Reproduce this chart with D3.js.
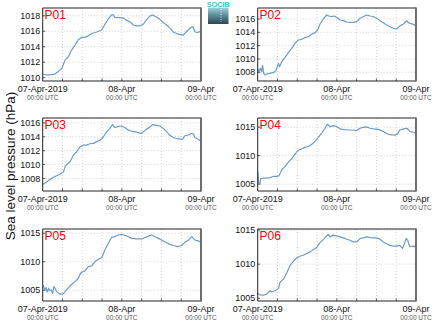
<!DOCTYPE html>
<html><head><meta charset="utf-8">
<script src="https://cdn.jsdelivr.net/npm/d3@7"></script>
<style>
html,body{margin:0;padding:0;background:#fff;}
svg{display:block;font-family:"Liberation Sans",Arial,sans-serif;}
</style></head>
<body>
<svg id="chart" width="435" height="327"></svg>
<script>
// ---------- DATA ----------
const panelNames = ["P01","P02","P03","P04","P05","P06"];
const startDate = "2019-04-07T00:00:00Z";
const xTickLabels = ["07-Apr-2019","08-Apr","09-Apr"];
const xTickSubLabel = "00:00 UTC";
const yAxisTitle = "Sea level pressure (hPa)";

const p01Hours = [0,1.2,2.7,3.7,4.7,5.8,6.8,7.8,8.8,9.8,10.8,11.8,12.8,13.8,14.9,16.4,17.9,18.9,19.9,20.9,21.4,21.9,23.4,24.5,25.5,26.5,27.5,28.5,29.5,30.5,31.5,32.5,33.3,34.6,35.6,36.6,37.6,38.6,39.6,40.6,41.6,42.6,43.7,44.7,45.5,46.2,47.0,48];
const p01Values = [1010.47,1010.34,1010.4,1010.47,1010.8,1011.2,1012.3,1012.7,1013.6,1014.2,1014.9,1015.2,1015.2,1015.4,1015.7,1015.9,1016.15,1016.9,1017.6,1018.1,1018.1,1017.8,1017.75,1017.7,1017.4,1017.2,1016.8,1016.7,1016.7,1016.9,1017.5,1017.95,1018.1,1017.8,1017.5,1017.1,1016.8,1016.4,1015.9,1015.7,1015.6,1015.5,1016.0,1016.4,1016.6,1015.9,1015.85,1016.0];

const p02Hours = [0,0.4,0.8,1.2,1.5,1.8,2.2,2.7,3.7,4.7,5.5,6.3,6.6,7.3,8.3,9.3,10.3,11.3,12.3,13.3,14.3,15.4,16.4,17.4,18.2,18.9,19.9,20.9,21.6,22.4,23.2,23.9,25.0,26.0,27.0,28.0,29.0,30.0,31.0,32.0,33.0,34.1,35.1,36.1,37.1,38.1,39.1,40.1,41.1,42.1,43.1,44.2,45.2,45.7,46.2,47.2,48];
const p02Values = [1008.45,1008.1,1008.6,1008.1,1009.05,1007.85,1007.6,1007.75,1007.85,1007.95,1008.25,1009.35,1008.85,1009.6,1010.25,1010.95,1011.6,1012.35,1012.85,1012.95,1013.2,1013.35,1013.75,1013.95,1014.35,1015.25,1016.0,1016.6,1016.45,1016.35,1016.45,1016.25,1015.85,1015.75,1015.55,1015.5,1015.5,1015.6,1016.1,1016.35,1016.6,1016.45,1016.35,1016.1,1015.75,1015.45,1015.1,1014.85,1014.6,1014.5,1014.95,1015.25,1015.75,1015.45,1015.35,1015.2,1014.95];

const p03Hours = [0,1.2,2.2,3.2,4.2,5.3,6.3,6.8,7.3,8.3,9.3,10.3,11.3,12.3,13.3,14.3,15.4,16.4,17.4,18.4,19.4,20.4,21.2,21.9,22.9,23.9,25.0,26.0,27.0,28.0,29.0,30.0,30.5,31.5,32.5,33.3,34.6,35.6,36.6,37.6,38.6,39.6,40.6,41.6,42.4,43.1,44.2,45.2,45.7,46.2,47.2,48];
const p03Values = [1007.15,1007.5,1007.9,1008.15,1008.4,1008.6,1008.95,1009.7,1010.0,1010.4,1011.35,1011.85,1012.55,1012.8,1012.8,1013.0,1013.05,1013.3,1013.5,1014.0,1014.7,1015.2,1015.75,1015.3,1015.5,1015.55,1015.3,1014.95,1014.8,1014.7,1014.6,1014.45,1014.7,1015.1,1015.4,1015.75,1015.65,1015.55,1015.2,1014.7,1014.2,1013.9,1013.75,1013.65,1013.65,1014.15,1014.25,1014.5,1014.4,1013.85,1013.65,1013.35];

const p04Hours = [0,0.3,0.6,0.9,1.7,2.7,3.7,4.7,5.8,6.5,7.3,8.3,9.3,10.3,11.3,12.3,13.3,14.3,15.4,16.4,17.4,18.4,19.4,20.4,21.1,21.9,22.9,23.9,25.0,26.0,27.5,29.0,30.0,31.0,32.0,33.0,34.1,35.1,36.6,37.6,38.6,39.6,40.6,41.6,42.4,43.1,44.2,45.2,45.7,46.2,47.2,48];
const p04Values = [1007.2,1005.2,1004.9,1005.95,1006.05,1006.05,1006.15,1006.35,1006.35,1006.5,1007.5,1008.1,1008.85,1009.45,1010.25,1010.95,1011.15,1011.45,1011.6,1012.0,1012.5,1013.2,1013.95,1014.8,1015.5,1015.1,1015.25,1015.1,1014.7,1014.55,1014.5,1014.5,1014.4,1014.8,1014.95,1015.05,1014.8,1014.7,1014.6,1014.35,1014.05,1013.75,1013.65,1013.6,1013.75,1014.5,1014.7,1014.8,1014.55,1014.25,1014.1,1013.95];

const p05Hours = [0,0.3,0.7,1.0,1.4,1.8,2.2,2.6,3.0,3.4,3.8,4.2,5.1,6.1,6.8,7.8,8.8,9.8,10.8,11.3,11.8,12.8,13.8,14.9,15.9,16.9,17.9,18.9,19.9,20.9,21.9,22.9,23.9,25.0,26.0,27.0,28.5,30.0,31.0,32.0,33.0,34.1,35.1,36.6,37.6,38.6,39.6,41.1,42.1,43.1,44.2,45.2,45.7,46.2,47.2,48];
const p05Values = [1005.95,1005.65,1005.05,1005.45,1004.65,1005.35,1004.9,1005.05,1004.45,1005.65,1005.25,1004.75,1004.35,1004.3,1004.75,1005.45,1006.05,1006.5,1007.1,1007.8,1008.15,1008.4,1009.15,1009.3,1010.05,1010.45,1010.75,1012.1,1013.25,1014.3,1014.4,1014.7,1014.8,1014.6,1014.4,1014.1,1014.0,1014.0,1014.25,1014.45,1014.7,1014.4,1014.1,1013.65,1013.35,1013.05,1012.85,1012.65,1012.85,1013.4,1013.8,1014.4,1014.1,1013.8,1013.65,1013.4];

const p06Hours = [0,0.7,1.7,2.7,3.7,4.2,5.3,6.3,6.8,7.8,8.8,9.8,10.8,11.8,12.8,13.8,14.9,15.9,16.9,17.9,18.9,19.9,20.9,21.4,21.9,22.9,23.9,25.0,26.0,27.0,28.0,29.0,30.0,31.0,32.0,33.0,34.1,35.1,36.1,37.1,38.1,39.1,40.1,41.1,42.1,43.1,43.9,44.5,45.0,45.5,46.0,46.7,47.4,48];
const p06Values = [1005.75,1005.5,1005.45,1005.6,1006.1,1005.95,1006.1,1006.45,1007.35,1007.8,1008.7,1009.8,1010.4,1010.9,1011.15,1011.3,1011.55,1011.8,1012.15,1012.45,1013.15,1013.6,1014.15,1014.35,1014.0,1014.25,1014.15,1014.0,1013.85,1013.65,1013.5,1013.25,1013.25,1013.75,1013.85,1014.0,1013.9,1013.85,1013.85,1013.65,1013.25,1013.0,1012.75,1012.65,1012.65,1012.75,1012.3,1013.0,1013.75,1013.5,1012.65,1012.6,1012.65,1012.4];

const panelHours = [p01Hours,p02Hours,p03Hours,p04Hours,p05Hours,p06Hours];
const panelValues = [p01Values,p02Values,p03Values,p04Values,p05Values,p06Values];
const p01Ticks = [1010,1012,1014,1016,1018];
const p02Ticks = [1008,1010,1012,1014,1016];
const p03Ticks = [1008,1010,1012,1014,1016];
const p04Ticks = [1005,1010,1015];
const p05Ticks = [1005,1010,1015];
const p06Ticks = [1005,1010,1015];
const panelTicks = [p01Ticks,p02Ticks,p03Ticks,p04Ticks,p05Ticks,p06Ticks];
const yDomainMin = [1009.57,1006.7,1006.2,1003.8,1003.1,1004.6];
const yDomainMax = [1019.0,1017.65,1016.7,1016.6,1015.75,1015.15];

// ---------- LAYOUT ----------
const svg = d3.select("#chart");
const colX = [42.7, 257.7];
const rowY = [8, 118, 229];
const rowH = [73, 73, 72];
const pw = 158.3;
const start = new Date(startDate);
const end = d3.utcHour.offset(start, 48);
const lineColor = "#6b9bc9";

panelNames.forEach((name, i) => {
  const col = i % 2, row = Math.floor(i / 2);
  const ph = rowH[row];
  const g = svg.append("g").attr("transform", `translate(${colX[col]},${rowY[row]})`);
  const x = d3.scaleUtc().domain([start, end]).range([0, pw]);
  const y = d3.scaleLinear().domain([yDomainMin[i], yDomainMax[i]]).range([ph, 0]);

  // grid
  const gridTimes = d3.utcHour.every(6).range(start, d3.utcHour.offset(end, 1));
  g.append("g").selectAll("line").data(gridTimes.slice(1, -1)).join("line")
    .attr("x1", d => x(d)).attr("x2", d => x(d)).attr("y1", 0).attr("y2", ph)
    .attr("stroke", "#c8c8c8").attr("stroke-width", 0.8).attr("stroke-dasharray", "1,2");
  g.append("g").selectAll("line").data(panelTicks[i]).join("line")
    .attr("x1", 0).attr("x2", pw).attr("y1", d => y(d)).attr("y2", d => y(d))
    .attr("stroke", "#c8c8c8").attr("stroke-width", 0.8).attr("stroke-dasharray", "1,2");

  // inner ticks
  g.append("g").selectAll("line").data(gridTimes.slice(1, -1)).join("line")
    .attr("x1", d => x(d)).attr("x2", d => x(d)).attr("y1", ph).attr("y2", ph - 2.5)
    .attr("stroke", "#333").attr("stroke-width", 0.8);
  g.append("g").selectAll("line").data(panelTicks[i]).join("line")
    .attr("x1", 0).attr("x2", 2.5).attr("y1", d => y(d)).attr("y2", d => y(d))
    .attr("stroke", "#333").attr("stroke-width", 0.8);

  // line
  const pts = panelHours[i].map((h, k) => [d3.utcMinute.offset(start, Math.round(h * 60)), panelValues[i][k]]);
  g.append("path").datum(pts)
    .attr("fill", "none").attr("stroke", lineColor).attr("stroke-width", 1.2)
    .attr("stroke-linejoin", "round")
    .attr("d", d3.line().x(d => x(d[0])).y(d => y(d[1])));

  // frame
  g.append("path").attr("d", `M${pw},0H0V${ph}H${pw}`)
    .attr("fill", "none").attr("stroke", "#222").attr("stroke-width", 1);
  g.append("line").attr("x1", pw).attr("x2", pw).attr("y1", -0.5).attr("y2", ph + 0.5)
    .attr("stroke", "#6e6e6e").attr("stroke-width", 2);

  // y tick labels
  g.append("g").selectAll("text").data(panelTicks[i]).join("text")
    .attr("x", -2.5).attr("y", d => y(d)).attr("dy", "0.35em")
    .attr("text-anchor", "end").attr("font-size", 9).attr("fill", "#111")
    .text(d => d);

  // x tick labels
  const labelTimes = [start, d3.utcHour.offset(start, 24), end];
  labelTimes.forEach((t, k) => {
    g.append("text").attr("x", x(t)).attr("y", ph + 11)
      .attr("text-anchor", "middle").attr("font-size", 9).attr("fill", "#111")
      .text(xTickLabels[k]);
    g.append("text").attr("x", x(t)).attr("y", ph + 19)
      .attr("text-anchor", "middle").attr("font-size", 6.5).attr("fill", "#555")
      .text(xTickSubLabel);
  });

  // panel label
  g.append("text").attr("x", 1.8).attr("y", 11.2)
    .attr("font-size", 12).attr("fill", "#ff0000").text(name);
});

// y axis title
svg.append("text").attr("transform", "translate(14.5,166) rotate(-90)")
  .attr("text-anchor", "middle").attr("font-size", 13.5).attr("fill", "#111")
  .text(yAxisTitle);

// logo
const defs = svg.append("defs");
const grad = defs.append("linearGradient").attr("id", "logoGrad").attr("x1", 0).attr("x2", 0).attr("y1", 0).attr("y2", 1);
grad.append("stop").attr("offset", "0%").attr("stop-color", "#9fd3dc");
grad.append("stop").attr("offset", "45%").attr("stop-color", "#5f8f9c");
grad.append("stop").attr("offset", "100%").attr("stop-color", "#2c4655");
svg.append("rect").attr("x", 208).attr("y", 7.5).attr("width", 20.5).attr("height", 16.5).attr("fill", "url(#logoGrad)");
svg.append("line").attr("x1", 221).attr("x2", 221).attr("y1", 9).attr("y2", 22)
  .attr("stroke", "#fff").attr("stroke-width", 0.8).attr("stroke-dasharray", "1,1.5");
svg.append("text").attr("x", 218.2).attr("y", 6.8).attr("text-anchor", "middle")
  .attr("font-size", 7.5).attr("fill", "#45bfd6").attr("font-weight", "bold").attr("letter-spacing", "-0.2").text("SOCIB");
</script>
</body></html>
